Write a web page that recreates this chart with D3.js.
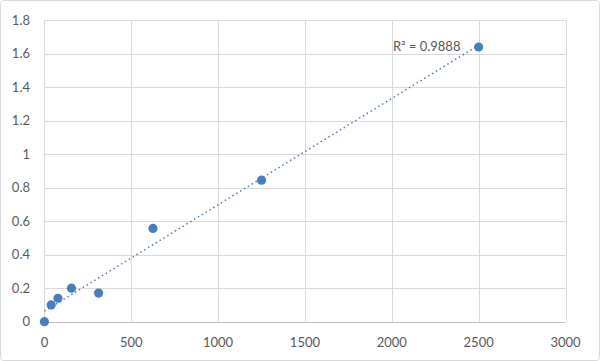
<!DOCTYPE html>
<html><head><meta charset="utf-8">
<script src="https://cdn.jsdelivr.net/npm/d3@7"></script>
<style>html,body{margin:0;padding:0;background:#fff;}svg{display:block;}</style>
</head><body>
<svg id="c" width="600" height="361"></svg>
<script>
const xValues = [0, 39, 78, 156, 312, 625, 1250, 2500];
const yValues = [0, 0.10, 0.14, 0.20, 0.171, 0.557, 0.845, 1.64];
const xTicks = [0, 500, 1000, 1500, 2000, 2500, 3000];
const yTicks = [0, 0.2, 0.4, 0.6, 0.8, 1, 1.2, 1.4, 1.6, 1.8];
const r2Label = "R² = 0.9888";

const svg = d3.select("#c");
const W = 600, H = 361;
const m = {l: 44.4, r: 34.5, t: 20.2, b: 39.3};
svg.append("rect").attr("x",0.5).attr("y",0.5).attr("width",W-1).attr("height",H-1)
  .attr("rx",3).attr("fill","#fff").attr("stroke","#d9d9d9");

const x = d3.scaleLinear().domain([0,3000]).range([m.l, W-m.r]);
const y = d3.scaleLinear().domain([0,1.8]).range([H-m.b, m.t]);
const font = "Lato, 'Open Sans', sans-serif";

const g = svg.append("g");
// grid
g.selectAll(".gy").data(yTicks.filter(d=>d>0)).enter().append("line")
  .attr("x1",x(0)).attr("x2",x(3000)).attr("y1",d=>Math.round(y(d))+0.5).attr("y2",d=>Math.round(y(d))+0.5)
  .attr("stroke","#d9d9d9").attr("stroke-width",1);
g.selectAll(".gx").data(xTicks.filter(d=>d>0)).enter().append("line")
  .attr("y1",y(0)).attr("y2",y(1.8)).attr("x1",d=>Math.round(x(d))+0.5).attr("x2",d=>Math.round(x(d))+0.5)
  .attr("stroke","#d9d9d9").attr("stroke-width",1);
// axes lines
g.append("line").attr("x1",Math.round(x(0))+0.5).attr("x2",Math.round(x(0))+0.5).attr("y1",y(0)).attr("y2",y(1.8))
  .attr("stroke","#d9d9d9");
g.append("line").attr("x1",x(0)).attr("x2",x(3000)).attr("y1",Math.round(y(0))+0.5).attr("y2",Math.round(y(0))+0.5)
  .attr("stroke","#bfbfbf");

// tick labels
g.selectAll(".ty").data(yTicks).enter().append("text")
  .attr("x",30).attr("y",d=>y(d)+4.5).attr("text-anchor","end")
  .attr("font-family",font).attr("font-size",13).attr("fill","#595959")
  .text(d=>d3.format("")(d));
g.selectAll(".tx").data(xTicks).enter().append("text")
  .attr("x",d=>x(d)).attr("y",H-m.b+25).attr("text-anchor","middle")
  .attr("font-family",font).attr("font-size",13).attr("fill","#595959")
  .text(d=>d);

// trendline (least squares)
const n = xValues.length;
const mx = d3.mean(xValues), my = d3.mean(yValues);
let sxy=0, sxx=0;
for (let i=0;i<n;i++){ sxy+=(xValues[i]-mx)*(yValues[i]-my); sxx+=(xValues[i]-mx)**2; }
const slope = sxy/sxx, icpt = my - slope*mx;
const x0 = d3.min(xValues), x1 = d3.max(xValues);
g.append("line").attr("x1",x(x0)).attr("y1",y(icpt+slope*x0)).attr("x2",x(x1)).attr("y2",y(icpt+slope*x1))
  .attr("stroke","#4a7ebb").attr("stroke-width",1.5).attr("stroke-dasharray","1.5,3");

// points
g.selectAll(".pt").data(xValues.map((d,i)=>[d,yValues[i]])).enter().append("circle")
  .attr("cx",d=>x(d[0])).attr("cy",d=>y(d[1])).attr("r",4.6).attr("fill","#4a7ebb");

// label
g.append("text").attr("x",393).attr("y",51).attr("font-family",font).attr("font-size",13)
  .attr("fill","#595959").text(r2Label);
</script>
</body></html>
